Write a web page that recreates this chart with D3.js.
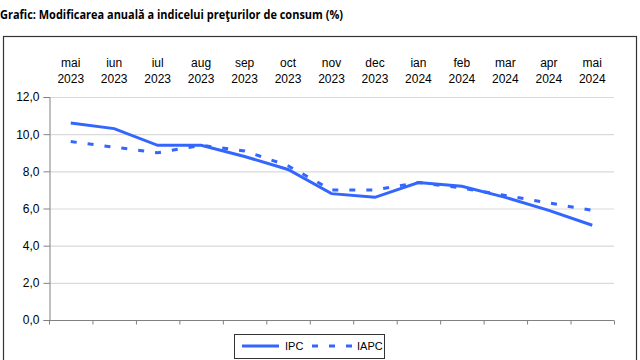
<!DOCTYPE html>
<html><head><meta charset="utf-8">
<script src="https://cdn.jsdelivr.net/npm/d3@7"></script>
<style>body{margin:0;background:#fff}svg{display:block}</style>
</head><body><svg id="c" width="640" height="360"></svg>
<script>
const months = ["mai","iun","iul","aug","sep","oct","nov","dec","ian","feb","mar","apr","mai"];
const years  = ["2023","2023","2023","2023","2023","2023","2023","2023","2024","2024","2024","2024","2024"];
const ipc  = [10.6,10.3,9.4,9.4,8.8,8.1,6.8,6.6,7.4,7.2,6.6,5.9,5.1];
const iapc = [9.6,9.3,9.0,9.4,9.1,8.3,7.0,7.0,7.4,7.1,6.7,6.3,5.9];
const yTicks = [0,2,4,6,8,10,12];
const title = "Grafic: Modificarea anuală a indicelui preţurilor de consum (%)";

const svg = d3.select("#c");
const m = {l:49, r:614, t:97, b:320};
const x = d3.scaleBand().domain(d3.range(months.length)).range([m.l, m.r]);
const y = d3.scaleLinear().domain([0,12]).range([m.b, m.t]);
const col = "#3366ff";
const dash = "6,11";
const font = "'Liberation Sans',Arial,sans-serif";

svg.append("text").attr("x",0).attr("y",19).attr("font-family","'Open Sans',sans-serif")
  .attr("font-weight","bold").attr("font-size",12).attr("fill","#000")
  .attr("textLength",343).attr("lengthAdjust","spacingAndGlyphs").text(title);

svg.append("rect").attr("x",3.5).attr("y",36.5).attr("width",633).attr("height",340)
  .attr("fill","none").attr("stroke","#333").attr("stroke-width",1.2);

// grid
svg.append("g").selectAll("line").data(yTicks.filter(d=>d>0)).join("line")
  .attr("x1",m.l).attr("x2",m.r).attr("y1",d=>y(d)+0.5).attr("y2",d=>y(d)+0.5)
  .attr("stroke","#d9d9d9").attr("stroke-width",1.2);

// y axis
const ya = svg.append("g").attr("transform",`translate(${m.l+0.5},0)`)
  .call(d3.axisLeft(y).tickValues(yTicks).tickSize(6).tickPadding(4)
    .tickFormat(d=>d3.format(".1f")(d).replace(".",",")));
ya.select(".domain").attr("stroke","#808080");
ya.selectAll(".tick line").attr("stroke","#808080");
ya.selectAll("text").attr("font-family",font).attr("font-size",12).attr("fill","#000");

// x axis
const xa = svg.append("g").attr("transform",`translate(0,${m.b+0.5})`);
xa.append("line").attr("x1",m.l).attr("x2",m.r).attr("stroke","#808080");
const bounds = d3.range(months.length+1).map(i=>m.l + i*x.step());
xa.selectAll("line.t").data(bounds).join("line").attr("class","t")
  .attr("x1",d=>d+0.5).attr("x2",d=>d+0.5).attr("y1",0).attr("y2",4).attr("stroke","#808080");

// top labels
const lab = svg.append("g").attr("font-family",font).attr("font-size",12)
  .attr("fill","#000").attr("text-anchor","middle");
lab.selectAll("text.m").data(months).join("text").attr("class","m")
  .attr("x",(d,i)=>x(i)+x.bandwidth()/2).attr("y",67).text(d=>d);
lab.selectAll("text.y").data(years).join("text").attr("class","y")
  .attr("x",(d,i)=>x(i)+x.bandwidth()/2).attr("y",83).text(d=>d);

const line = d3.line().x((d,i)=>x(i)+x.bandwidth()/2).y(d=>y(d));
svg.append("path").datum(iapc).attr("d",line).attr("fill","none").attr("stroke",col)
  .attr("stroke-width",3).attr("stroke-dasharray",dash);
svg.append("path").datum(ipc).attr("d",line).attr("fill","none").attr("stroke",col)
  .attr("stroke-width",3);

// legend
const lg = svg.append("g");
lg.append("rect").attr("x",234.5).attr("y",334.5).attr("width",150).attr("height",24)
  .attr("fill","#fff").attr("stroke","#333").attr("stroke-width",1);
lg.append("line").attr("x1",242).attr("x2",279).attr("y1",346).attr("y2",346).attr("stroke",col).attr("stroke-width",3);
lg.append("line").attr("x1",312).attr("x2",352).attr("y1",346).attr("y2",346).attr("stroke",col).attr("stroke-width",3).attr("stroke-dasharray",dash);
lg.selectAll("text").data(["IPC","IAPC"]).join("text")
  .attr("x",(d,i)=>i?357:285).attr("y",350).attr("font-family",font)
  .attr("font-size",11).attr("fill","#000").text(d=>d);
</script></body></html>
